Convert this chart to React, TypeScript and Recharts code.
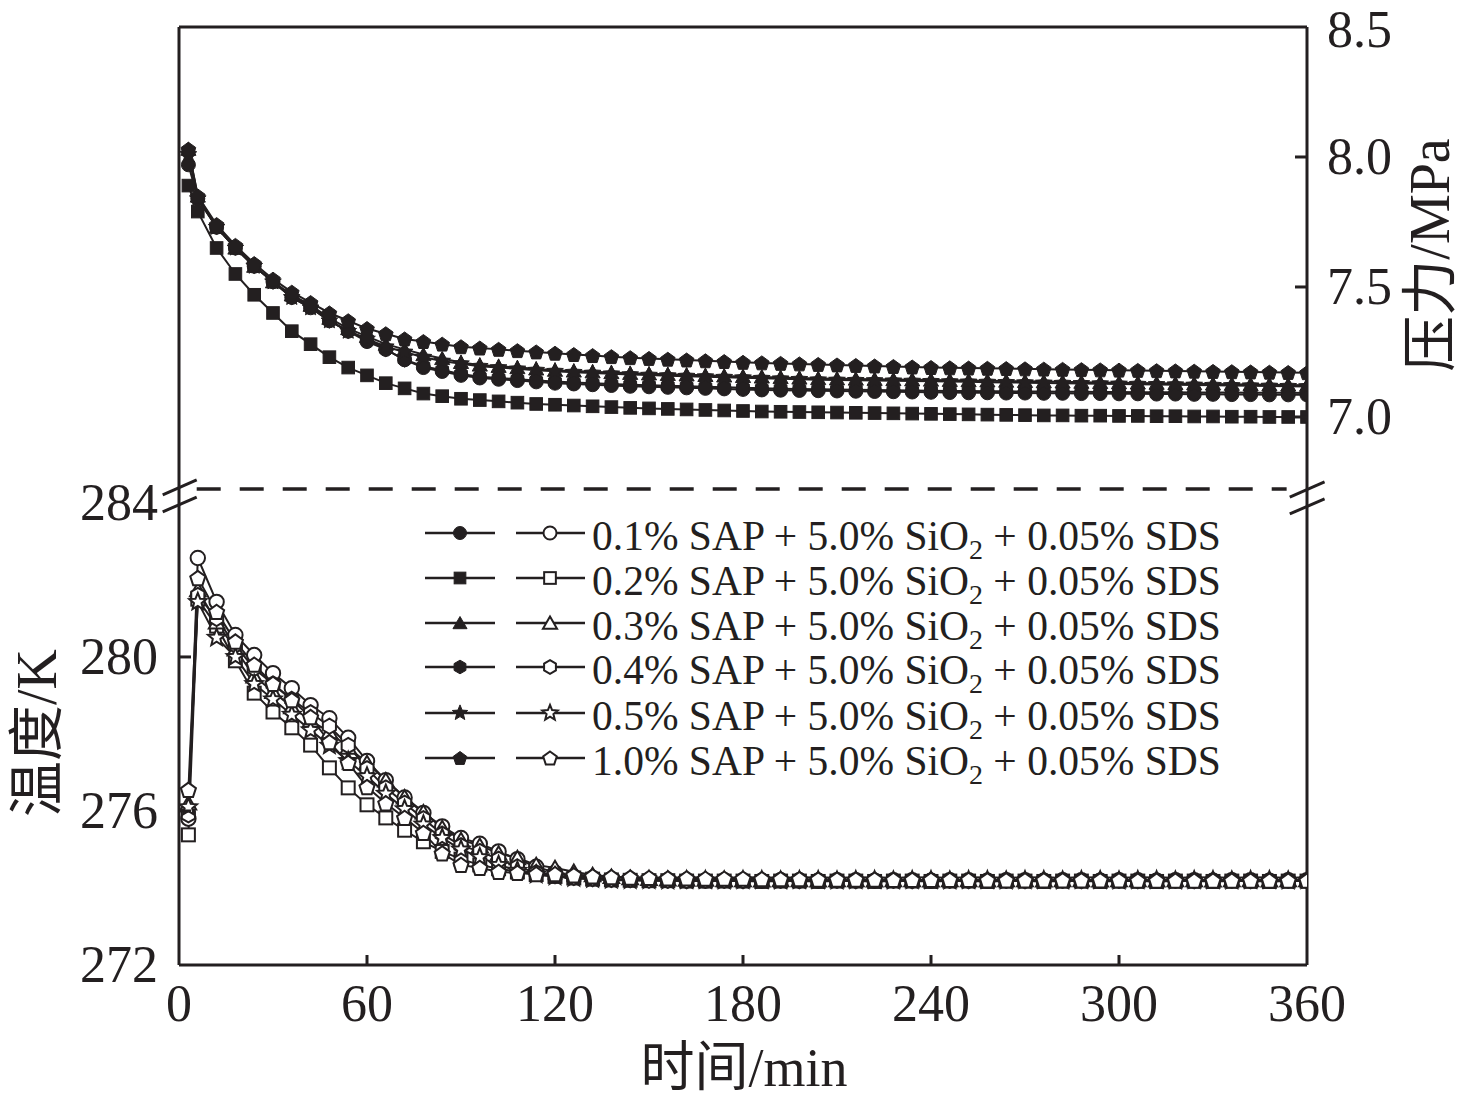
import React from 'react';
import { ComposedChart, Line, XAxis, YAxis, ReferenceLine } from 'recharts';

const INK = '#231f20';
const FONT = '"Liberation Serif", "Times New Roman", "Noto Sans CJK SC", serif';

// time (min)
const times = [
  3, 6, 12, 18, 24, 30, 36, 42, 48, 54,
  60, 66, 72, 78, 84, 90, 96, 102, 108, 114,
  120, 126, 132, 138, 144, 150, 156, 162, 168, 174,
  180, 186, 192, 198, 204, 210, 216, 222, 228, 234,
  240, 246, 252, 258, 264, 270, 276, 282, 288, 294,
  300, 306, 312, 318, 324, 330, 336, 342, 348, 354,
  360,
];

// pressure (MPa)
const p01 = [
  7.97, 7.84, 7.73, 7.65, 7.58, 7.52, 7.46, 7.42, 7.37, 7.33,
  7.29, 7.26, 7.22, 7.19, 7.175, 7.16, 7.15, 7.145, 7.14, 7.135,
  7.13, 7.127, 7.124, 7.121, 7.118, 7.116, 7.114, 7.112, 7.11, 7.108,
  7.106, 7.104, 7.103, 7.102, 7.101, 7.1, 7.099, 7.098, 7.097, 7.096,
  7.095, 7.094, 7.093, 7.093, 7.092, 7.092, 7.091, 7.091, 7.09, 7.09,
  7.089, 7.089, 7.088, 7.088, 7.087, 7.087, 7.086, 7.086, 7.085, 7.085,
  7.085,
];
const p02 = [
  7.89, 7.79, 7.65, 7.55, 7.47, 7.40, 7.33, 7.28, 7.23, 7.19,
  7.16, 7.13, 7.11, 7.09, 7.08, 7.07, 7.065, 7.06, 7.055, 7.05,
  7.047, 7.044, 7.041, 7.038, 7.035, 7.033, 7.031, 7.029, 7.027, 7.025,
  7.023, 7.021, 7.02, 7.019, 7.018, 7.017, 7.016, 7.015, 7.014, 7.013,
  7.012, 7.011, 7.01, 7.009, 7.008, 7.007, 7.006, 7.006, 7.005, 7.005,
  7.004, 7.004, 7.003, 7.003, 7.002, 7.002, 7.001, 7.001, 7.0, 7.0,
  7.0,
];
const p03 = [
  8.03, 7.85, 7.73, 7.65, 7.58, 7.52, 7.47, 7.43, 7.38, 7.34,
  7.31, 7.28, 7.26, 7.24, 7.225, 7.21, 7.2, 7.195, 7.19, 7.185,
  7.18, 7.177, 7.174, 7.171, 7.168, 7.166, 7.164, 7.162, 7.16, 7.158,
  7.156, 7.154, 7.152, 7.15, 7.148, 7.147, 7.146, 7.145, 7.144, 7.143,
  7.142, 7.141, 7.14, 7.139, 7.138, 7.137, 7.136, 7.135, 7.134, 7.133,
  7.132, 7.131, 7.13, 7.129, 7.128, 7.127, 7.126, 7.125, 7.124, 7.123,
  7.122,
];
const p04 = [
  8.02, 7.84, 7.73, 7.65, 7.58, 7.52, 7.46, 7.43, 7.37, 7.33,
  7.30, 7.26, 7.22, 7.195, 7.18, 7.165, 7.155, 7.15, 7.145, 7.14,
  7.136, 7.133, 7.13, 7.127, 7.124, 7.122, 7.12, 7.118, 7.116, 7.114,
  7.112, 7.11, 7.109, 7.108, 7.107, 7.106, 7.105, 7.104, 7.103, 7.102,
  7.101, 7.1, 7.1, 7.099, 7.099, 7.098, 7.098, 7.097, 7.097, 7.096,
  7.096, 7.095, 7.095, 7.095, 7.094, 7.094, 7.094, 7.093, 7.093, 7.093,
  7.092,
];
const p05 = [
  8.01, 7.84, 7.73, 7.65, 7.58, 7.52, 7.46, 7.42, 7.37, 7.33,
  7.30, 7.27, 7.25, 7.23, 7.215, 7.205, 7.195, 7.19, 7.185, 7.18,
  7.176, 7.172, 7.169, 7.166, 7.163, 7.161, 7.159, 7.157, 7.155, 7.153,
  7.151, 7.149, 7.147, 7.145, 7.143, 7.142, 7.141, 7.14, 7.139, 7.138,
  7.137, 7.136, 7.135, 7.134, 7.133, 7.132, 7.131, 7.13, 7.129, 7.128,
  7.127, 7.126, 7.125, 7.124, 7.123, 7.122, 7.121, 7.12, 7.119, 7.118,
  7.117,
];
const p10 = [
  8.03, 7.85, 7.74, 7.66, 7.59, 7.53, 7.48, 7.44, 7.40, 7.37,
  7.34, 7.32, 7.30, 7.29, 7.28, 7.27, 7.265, 7.26, 7.255, 7.25,
  7.245, 7.24, 7.236, 7.232, 7.228, 7.225, 7.222, 7.219, 7.216, 7.213,
  7.21, 7.208, 7.206, 7.204, 7.202, 7.2, 7.198, 7.196, 7.194, 7.192,
  7.19, 7.189, 7.188, 7.187, 7.186, 7.185, 7.184, 7.183, 7.182, 7.181,
  7.18, 7.179, 7.178, 7.177, 7.176, 7.175, 7.174, 7.173, 7.172, 7.171,
  7.17,
];

// temperature (K)
const t01 = [
  275.8, 282.57, 281.43, 280.57, 280.05, 279.58, 279.19, 278.75, 278.41, 277.9,
  277.3, 276.8, 276.35, 275.95, 275.6, 275.3, 275.15, 274.95, 274.75, 274.55,
  274.4, 274.3, 274.26, 274.23, 274.22, 274.21, 274.2, 274.2, 274.19, 274.2,
  274.2, 274.19, 274.2, 274.2, 274.19, 274.2, 274.2, 274.19, 274.2, 274.2,
  274.19, 274.2, 274.2, 274.19, 274.2, 274.2, 274.19, 274.2, 274.2, 274.19,
  274.2, 274.2, 274.19, 274.2, 274.2, 274.19, 274.2, 274.2, 274.19, 274.2,
  274.2,
];
const t02 = [
  275.38, 281.5, 280.8, 279.9, 279.06, 278.57, 278.16, 277.71, 277.12, 276.6,
  276.16, 275.82, 275.5, 275.2, 274.95, 274.75, 274.6, 274.5, 274.42, 274.35,
  274.3, 274.26, 274.23, 274.21, 274.2, 274.19, 274.19, 274.18, 274.18, 274.18,
  274.18, 274.17, 274.18, 274.18, 274.17, 274.18, 274.18, 274.17, 274.18, 274.18,
  274.17, 274.18, 274.18, 274.17, 274.18, 274.18, 274.17, 274.18, 274.18, 274.17,
  274.18, 274.18, 274.17, 274.18, 274.18, 274.17, 274.18, 274.18, 274.17, 274.18,
  274.18,
];
const t03 = [
  276.2, 281.74, 280.9, 280.2, 279.5, 279.1, 278.7, 278.35, 278.05, 277.65,
  277.25, 276.8, 276.36, 275.97, 275.56, 275.25, 275.1, 274.9, 274.78, 274.6,
  274.52, 274.42, 274.34, 274.29, 274.26, 274.24, 274.23, 274.22, 274.22, 274.21,
  274.21, 274.2, 274.21, 274.21, 274.2, 274.21, 274.21, 274.2, 274.21, 274.21,
  274.2, 274.21, 274.21, 274.2, 274.21, 274.21, 274.2, 274.21, 274.21, 274.2,
  274.21, 274.21, 274.2, 274.21, 274.21, 274.2, 274.21, 274.21, 274.2, 274.21,
  274.21,
];
const t04 = [
  275.9, 281.6, 281.0, 280.3, 279.7, 279.3, 278.9, 278.55, 278.2, 277.7,
  277.1, 276.6, 276.2, 275.8, 275.4, 275.1, 274.95, 274.75, 274.55, 274.4,
  274.32, 274.27, 274.24, 274.22, 274.21, 274.2, 274.2, 274.19, 274.2, 274.2,
  274.19, 274.2, 274.2, 274.19, 274.2, 274.2, 274.19, 274.2, 274.2, 274.19,
  274.2, 274.2, 274.19, 274.2, 274.2, 274.19, 274.2, 274.2, 274.19, 274.2,
  274.2, 274.19, 274.2, 274.2, 274.19, 274.2, 274.2, 274.19, 274.2, 274.2,
  274.19,
];
const t05 = [
  276.1, 281.43, 280.5, 280.0, 279.3, 278.9, 278.5, 278.1, 277.7, 277.3,
  276.9, 276.45, 276.05, 275.65, 275.3, 275.0, 274.8, 274.6, 274.45, 274.35,
  274.3, 274.26, 274.23, 274.21, 274.2, 274.2, 274.19, 274.2, 274.2, 274.19,
  274.2, 274.2, 274.19, 274.2, 274.2, 274.19, 274.2, 274.2, 274.19, 274.2,
  274.2, 274.19, 274.2, 274.2, 274.19, 274.2, 274.2, 274.19, 274.2, 274.2,
  274.19, 274.2, 274.2, 274.19, 274.2, 274.2, 274.19, 274.2, 274.2, 274.19,
  274.2,
];
const t10 = [
  276.55, 282.05, 281.17, 280.4, 279.8, 279.3, 278.88, 278.44, 277.79, 277.25,
  276.62, 276.2, 275.82, 275.43, 274.9, 274.6, 274.52, 274.42, 274.39, 274.36,
  274.36, 274.33, 274.3, 274.28, 274.27, 274.26, 274.25, 274.25, 274.24, 274.24,
  274.24, 274.23, 274.23, 274.23, 274.22, 274.22, 274.22, 274.22, 274.21, 274.21,
  274.21, 274.21, 274.21, 274.2, 274.2, 274.2, 274.2, 274.2, 274.2, 274.2,
  274.2, 274.19, 274.19, 274.19, 274.19, 274.19, 274.19, 274.19, 274.19, 274.19,
  274.19,
];

const seriesLabels = ['0.1%', '0.2%', '0.3%', '0.4%', '0.5%', '1.0%'];
const shapes = ['circle', 'square', 'triangle', 'hexagon', 'star', 'pentagon'];
const pressureSeries = [p01, p02, p03, p04, p05, p10];
const tempSeries = [t01, t02, t03, t04, t05, t10];

const xTicks = [0, 60, 120, 180, 240, 300, 360];
const tTicks = [272, 276, 280, 284];
const pTicks = [7.0, 7.5, 8.0, 8.5];
const tDomain = [272, 296.36];
const pDomain = [4.892, 8.5];
const breakLevel = 6.723;

const data = times.map((t, i) => {
  const row: Record<string, number> = { t };
  pressureSeries.forEach((s, k) => { row['p' + k] = s[i]; });
  tempSeries.forEach((s, k) => { row['T' + k] = s[i]; });
  return row;
});

function regular(cx: number, cy: number, n: number, r: number, inner?: number) {
  const pts: string[] = [];
  const count = inner ? n * 2 : n;
  for (let i = 0; i < count; i++) {
    const rr = inner ? (i % 2 === 0 ? r : inner) : r;
    const a = -Math.PI / 2 + (i * 2 * Math.PI) / count;
    pts.push(`${(cx + rr * Math.cos(a)).toFixed(2)},${(cy + rr * Math.sin(a)).toFixed(2)}`);
  }
  return pts.join(' ');
}

function Marker({ shape, cx, cy, filled, r }: { shape: string; cx: number; cy: number; filled: boolean; r: number }) {
  const fill = filled ? INK : '#ffffff';
  const sw = filled ? 1 : 2;
  const common = { fill, stroke: INK, strokeWidth: sw };
  switch (shape) {
    case 'circle':
      return <circle cx={cx} cy={cy} r={r} {...common} />;
    case 'square':
      return <rect x={cx - r * 0.9} y={cy - r * 0.9} width={r * 1.8} height={r * 1.8} {...common} />;
    case 'triangle':
      return <polygon points={regular(cx, cy + r * 0.25, 3, r * 1.25)} {...common} />;
    case 'hexagon':
      return <polygon points={regular(cx, cy, 6, r * 1.05)} {...common} />;
    case 'star':
      return <polygon points={regular(cx, cy, 5, r * 1.25, r * 0.55)} {...common} />;
    case 'pentagon':
    default:
      return <polygon points={regular(cx, cy + r * 0.1, 5, r * 1.1)} {...common} />;
  }
}

const makeDot = (shape: string, filled: boolean, prefix: string, r: number) => (props: any) => {
  const { cx, cy, index } = props;
  if (cx == null || cy == null || isNaN(cx) || isNaN(cy)) return <g key={`${prefix}-${index}`} />;
  return (
    <g key={`${prefix}-${index}`}>
      <Marker shape={shape} cx={cx} cy={cy} filled={filled} r={r} />
    </g>
  );
};

const LEFT_MARGIN = 21;
const RIGHT_MARGIN = 20;
const X_MARGIN = 38;
const TICK_LEN = 12;

const LeftTick = (props: any) => {
  const { x, y, payload } = props;
  const ax = x + LEFT_MARGIN;
  const showLine = payload.value !== 272 && payload.value !== 284;
  return (
    <g>
      {showLine && <line x1={ax} x2={ax + TICK_LEN} y1={y} y2={y} stroke={INK} strokeWidth={3} />}
      <text x={x} y={y} dy={17} textAnchor="end" fontFamily={FONT} fontSize={52} fill={INK}>
        {payload.value}
      </text>
    </g>
  );
};

const RightTick = (props: any) => {
  const { x, y, payload } = props;
  const ax = x - RIGHT_MARGIN;
  const isTop = payload.value === 8.5;
  return (
    <g>
      {!isTop && <line x1={ax} x2={ax - TICK_LEN} y1={y} y2={y} stroke={INK} strokeWidth={3} />}
      <text x={x} y={y} dy={isTop ? 20 : 17} textAnchor="start" fontFamily={FONT} fontSize={52} fill={INK}>
        {Number(payload.value).toFixed(1)}
      </text>
    </g>
  );
};

const BottomTick = (props: any) => {
  const { x, y, payload } = props;
  const ay = y - X_MARGIN;
  const showLine = payload.value !== 0 && payload.value !== 360;
  return (
    <g>
      {showLine && <line x1={x} x2={x} y1={ay} y2={ay - TICK_LEN + 2} stroke={INK} strokeWidth={3} />}
      <text x={x} y={y} dy={18} textAnchor="middle" fontFamily={FONT} fontSize={52} fill={INK}>
        {payload.value}
      </text>
    </g>
  );
};

const W = 1476;
const H = 1106;

const legendRows = [533, 578, 623, 667, 713, 758];

function Overlay() {
  return (
    <svg width={W} height={H} style={{ position: 'absolute', left: 0, top: 0, pointerEvents: 'none' }}>
      {seriesLabels.map((lab, k) => {
        const y = legendRows[k];
        return (
          <g key={lab}>
            <line x1={425} x2={495} y1={y} y2={y} stroke={INK} strokeWidth={2.5} />
            <Marker shape={shapes[k]} cx={460} cy={y} filled r={6.5} />
            <line x1={516} x2={585} y1={y} y2={y} stroke={INK} strokeWidth={2.5} />
            <Marker shape={shapes[k]} cx={550} cy={y} filled={false} r={6.5} />
            <text x={592} y={y + 17} fontFamily={FONT} fontSize={41.5} fill={INK}>
              {lab} SAP + 5.0% SiO
              <tspan fontSize={28} dy={9}>2</tspan>
              <tspan dy={-9}> + 0.05% SDS</tspan>
            </text>
          </g>
        );
      })}
      <text x={744} y={1086} textAnchor="middle" fontFamily={FONT} fontSize={54} fill={INK}>
        时间/min
      </text>
      <text
        transform="translate(37,733) rotate(-90)"
        textAnchor="middle"
        dominantBaseline="central"
        fontFamily={FONT}
        fontSize={56}
        fill={INK}
      >
        温度/K
      </text>
      <text
        transform="translate(1430,255) rotate(-90)"
        textAnchor="middle"
        dominantBaseline="central"
        fontFamily={FONT}
        fontSize={56}
        fill={INK}
      >
        压力/MPa
      </text>
    </svg>
  );
}

export default function App() {
  return (
    <div style={{ position: 'relative', width: W, height: H, margin: '-8px 0 0 -8px', background: '#fff' }}>
      <ComposedChart width={W} height={H} data={data} margin={{ top: 27, right: 0, bottom: 0, left: 0 }}>
        <XAxis
          dataKey="t"
          type="number"
          domain={[0, 360]}
          ticks={xTicks}
          height={141}
          tickSize={0}
          tickMargin={X_MARGIN}
          tick={<BottomTick />}
          axisLine={{ stroke: INK, strokeWidth: 3 }}
          tickLine={false}
          allowDataOverflow
        />
        <YAxis
          yAxisId="t"
          orientation="left"
          type="number"
          domain={tDomain}
          ticks={tTicks}
          width={179}
          tickSize={0}
          tickMargin={LEFT_MARGIN}
          tick={<LeftTick />}
          axisLine={{ stroke: INK, strokeWidth: 3 }}
          tickLine={false}
          allowDataOverflow
        />
        <YAxis
          yAxisId="p"
          orientation="right"
          type="number"
          domain={pDomain}
          ticks={pTicks}
          width={169}
          tickSize={0}
          tickMargin={RIGHT_MARGIN}
          tick={<RightTick />}
          axisLine={{ stroke: INK, strokeWidth: 3 }}
          tickLine={false}
          allowDataOverflow
        />
        <ReferenceLine yAxisId="p" y={8.5} stroke={INK} strokeWidth={3} ifOverflow="visible" />
        <ReferenceLine
          yAxisId="p"
          segment={[{ x: 5.65, y: breakLevel }, { x: 353.5, y: breakLevel }]}
          stroke={INK}
          strokeWidth={3.5}
          strokeDasharray="24 19"
          ifOverflow="visible"
        />
        <ReferenceLine
          yAxisId="p"
          segment={[{ x: -5.2, y: 6.7 }, { x: 5.65, y: 6.758 }]}
          stroke={INK}
          strokeWidth={3}
          ifOverflow="visible"
        />
        <ReferenceLine
          yAxisId="p"
          segment={[{ x: -5.2, y: 6.635 }, { x: 5.65, y: 6.692 }]}
          stroke={INK}
          strokeWidth={3}
          ifOverflow="visible"
        />
        <ReferenceLine
          yAxisId="p"
          segment={[{ x: 354.5, y: 6.692 }, { x: 365.6, y: 6.75 }]}
          stroke={INK}
          strokeWidth={3}
          ifOverflow="visible"
        />
        <ReferenceLine
          yAxisId="p"
          segment={[{ x: 354.5, y: 6.627 }, { x: 365.6, y: 6.685 }]}
          stroke={INK}
          strokeWidth={3}
          ifOverflow="visible"
        />
        {tempSeries.map((_, k) => (
          <Line
            key={'T' + k}
            yAxisId="t"
            dataKey={'T' + k}
            type="linear"
            stroke={INK}
            strokeWidth={2}
            dot={makeDot(shapes[k], false, 'T' + k, 7.2)}
            activeDot={false}
            isAnimationActive={false}
          />
        ))}
        {pressureSeries.map((_, k) => (
          <Line
            key={'p' + k}
            yAxisId="p"
            dataKey={'p' + k}
            type="linear"
            stroke={INK}
            strokeWidth={2}
            dot={makeDot(shapes[k], true, 'p' + k, 7)}
            activeDot={false}
            isAnimationActive={false}
          />
        ))}
      </ComposedChart>
      <Overlay />
    </div>
  );
}
